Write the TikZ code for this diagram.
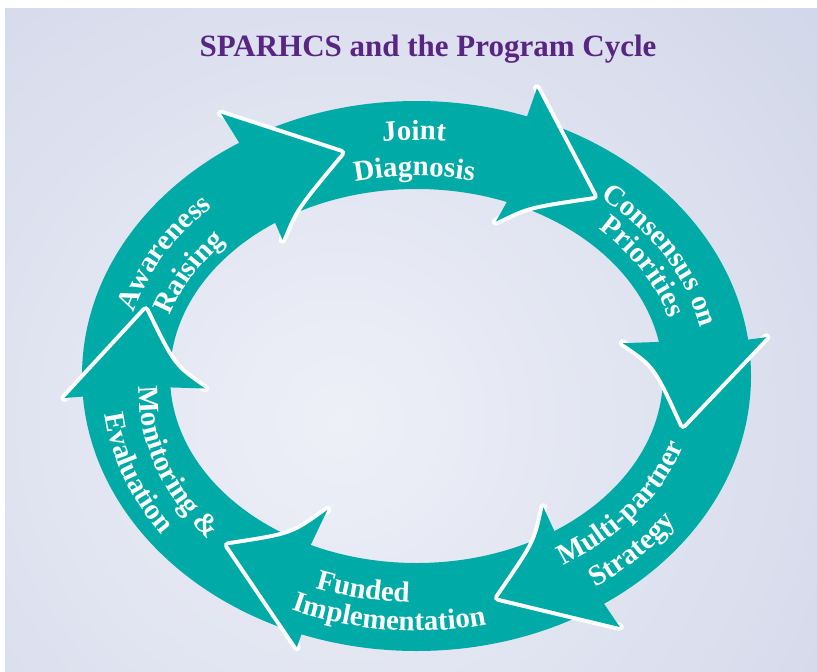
\documentclass[tikz,border=0pt]{standalone}
\usepackage{fontspec}
\setmainfont{Liberation Serif}
\usetikzlibrary{decorations.text,calc}

\definecolor{ringteal}{RGB}{0,170,166}
\definecolor{titlepurple}{RGB}{88,38,130}
\definecolor{bgouter}{RGB}{204,210,230}
\definecolor{bginner}{RGB}{238,240,248}

% point on the cycle band: angle, and fraction across the band (0 inner, 1 outer)
\tikzset{band/angle/.store in=\bandAngle, band/frac/.store in=\bandFrac}
\tikzdeclarecoordinatesystem{band}{%
  \tikzset{band/.cd,#1}%
  \pgfmathsetmacro\bandX{416.5+(246.5+88*(\bandFrac))*cos(\bandAngle)}%
  \pgfmathsetmacro\bandY{376+(187+88*(\bandFrac))*sin(\bandAngle)}%
  \pgfpointxy{\bandX}{\bandY}}
% baseline along the band, fraction going from #1 to #2, angle from #3 to #4 (polyline)
\newcommand\labelpath[4]{plot[domain=0:1,samples=90]
  ({416.5+(246.5+88*(#1+(#2-#1)*\x))*cos(#3+(#4-#3)*\x)},
   {376+(187+88*(#1+(#2-#1)*\x))*sin(#3+(#4-#3)*\x)})}
\newcommand\lblfont{\fontsize{29}{29}\selectfont\bfseries}

\tikzset{
  ring/.style={fill=ringteal, even odd rule},
  headfill/.style={fill=ringteal},
  headedge/.style={draw=white, line width=8pt, line cap=round, line join=round},
  arclabel/.style={decorate, decoration={text along path, text align=center,
      text color=white, text={|\lblfont|#1}}},
  titlefont/.style={font=\fontsize{31}{31}\selectfont\bfseries, text=titlepurple},
}

\begin{document}
\begin{tikzpicture}[x=1pt, y=-1pt]
\useasboundingbox (0,0) rectangle (817,672);

% panel with soft radial shading
\begin{scope}
  \clip (5,8) rectangle (817,672);
  \shade[inner color=bginner, outer color=bgouter] (340,420) circle (760pt);
\end{scope}

\node[titlefont, anchor=base] (title) at (428,56) {SPARHCS and the Program Cycle};

% the cycle band
\fill[ring] (416.5,376) ellipse [x radius=334.5pt, y radius=275pt]
            (416.5,376) ellipse [x radius=246.5pt, y radius=187pt];

% arrow heads: outer barb, tip, inner barb, and the notches on the band edges
\coordinate (h1o) at (band cs:angle=238, frac=1.39);
\coordinate (h1t) at (band cs:angle=255, frac=0.5);
\coordinate (h1i) at (band cs:angle=234, frac=-0.21);
\coordinate (h1no) at (band cs:angle=238, frac=1);
\coordinate (h1ni) at (band cs:angle=235, frac=0);

\coordinate (h2o) at (band cs:angle=289.3, frac=1.34);
\coordinate (h2t) at (band cs:angle=308, frac=0.47);
\coordinate (h2i) at (band cs:angle=290.7, frac=-0.25);
\coordinate (h2no) at (band cs:angle=289.3, frac=1);
\coordinate (h2ni) at (band cs:angle=291.5, frac=0);

\coordinate (h3o) at (band cs:angle=352.4, frac=1.21);
\coordinate (h3t) at (band cs:angle=373.2, frac=0.31);
\coordinate (h3i) at (band cs:angle=347.5, frac=-0.40);
\coordinate (h3no) at (band cs:angle=352.4, frac=1);
\coordinate (h3ni) at (band cs:angle=349.5, frac=0);

\coordinate (h4o) at (band cs:angle=55.9, frac=1.32);
\coordinate (h4t) at (band cs:angle=73.7, frac=0.5);
\coordinate (h4i) at (band cs:angle=54.8, frac=-0.30);
\coordinate (h4no) at (band cs:angle=55.9, frac=1);
\coordinate (h4ni) at (band cs:angle=56, frac=0);

\coordinate (h5o) at (band cs:angle=110.1, frac=1.155);
\coordinate (h5t) at (band cs:angle=131.4, frac=0.44);
\coordinate (h5i) at (band cs:angle=115.4, frac=-0.44);
\coordinate (h5no) at (band cs:angle=110.1, frac=1);
\coordinate (h5ni) at (band cs:angle=115.4, frac=0);

\coordinate (h6o) at (band cs:angle=175.7, frac=1.21);
\coordinate (h6t) at (band cs:angle=197.1, frac=0.42);
\coordinate (h6i) at (band cs:angle=175.3, frac=-0.39);
\coordinate (h6no) at (band cs:angle=175.7, frac=1);
\coordinate (h6ni) at (band cs:angle=176.5, frac=0);

% each head: white rim along its front edges, then the head itself
% (the inner front edge is slightly concave)
\foreach \h in {1,...,6}{
  \coordinate (h\h c) at ($(h\h t)!0.5!(h\h i)!0.45!(h\h ni)$);
  \draw[headedge] (h\h o) -- (h\h t) .. controls (h\h c) .. (h\h i);
  \fill[headfill] (h\h no) -- (h\h o) -- (h\h t) .. controls (h\h c) .. (h\h i)
                  -- (h\h ni) -- cycle;
}

% stage labels set along the band
\path[arclabel={Awareness}] \labelpath{0.54}{0.54}{174.3}{244.3};
\path[arclabel={Raising}] \labelpath{0.14}{0.14}{173}{243};
\path[arclabel={Joint}] \labelpath{0.557}{0.557}{234.5}{304.5};
\path[arclabel={Diagnosis}] \labelpath{0.148}{0.148}{234.5}{304.5};
\path[arclabel={Consensus on}] \labelpath{0.50}{0.50}{295}{365};
\path[arclabel={Priorities}] \labelpath{0.19}{0.19}{295.5}{365.5};
\path[arclabel={Multi-partner}] \labelpath{0.40}{0.40}{72}{2};
\path[arclabel={Strategy}] \labelpath{0.79}{0.79}{78.3}{8.3};
\path[arclabel={Funded}] \labelpath{0.45}{0.45}{136.7}{66.7};
\path[arclabel={Implementation}] \labelpath{0.77}{0.77}{130.5}{60.5};
\path[arclabel={Monitoring {\&}}] \labelpath{0.29}{0.57}{192.8}{122.8};
\path[arclabel={Evaluation}] \labelpath{0.73}{0.89}{193.5}{123.5};
\end{tikzpicture}
\end{document}
